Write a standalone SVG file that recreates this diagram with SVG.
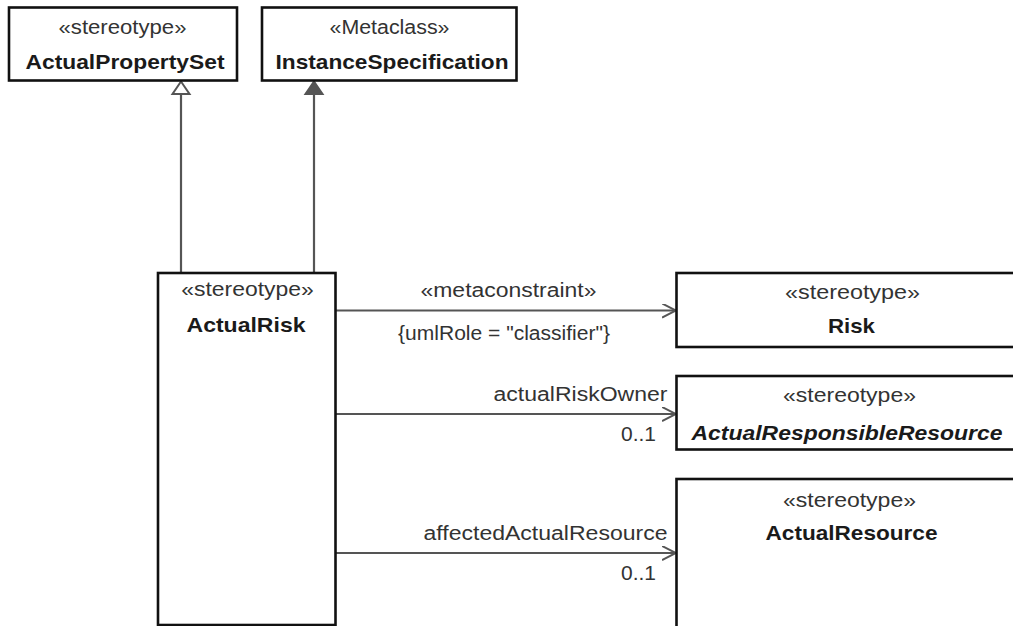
<svg xmlns="http://www.w3.org/2000/svg" width="1013" height="626" viewBox="0 0 1013 626">
<style>
.box{fill:#fff;stroke:#111;stroke-width:2.6}
.st{font-family:"Liberation Sans",Arial,sans-serif;font-size:19.5px;fill:#333;text-anchor:middle}
.nm{font-family:"Liberation Sans",Arial,sans-serif;font-size:21px;font-weight:bold;fill:#1a1a1a;text-anchor:middle}
.it{font-style:italic}
.lbl{font-family:"Liberation Sans",Arial,sans-serif;font-size:19.5px;fill:#333}
.con{fill:none;stroke:#555;stroke-width:2.2}
</style>
<defs>
<marker id="open" markerWidth="16" markerHeight="16" refX="14" refY="7" orient="auto" markerUnits="userSpaceOnUse">
<path d="M0,0 L14,7 L0,14" fill="none" stroke="#555" stroke-width="2"/>
</marker>
</defs>
<rect width="1013" height="626" fill="#fff"/>
<g id="connectors">
<line class="con" x1="181" y1="273" x2="181" y2="94"/>
<path d="M181,81.5 L189.5,94 L172.5,94 Z" fill="#fff" stroke="#555" stroke-width="2"/>
<line class="con" x1="314" y1="273" x2="314" y2="94"/>
<path d="M314,81.5 L322.5,94 L305.5,94 Z" fill="#555" stroke="#555" stroke-width="2"/>
<line class="con" x1="336" y1="310.5" x2="676" y2="310.5" marker-end="url(#open)"/>
<text class="st" x="508.5" y="297" textLength="176" lengthAdjust="spacingAndGlyphs">«metaconstraint»</text>
<text class="st" x="504" y="339.5" textLength="212" lengthAdjust="spacingAndGlyphs">{umlRole = "classifier"}</text>
<line class="con" x1="336" y1="414" x2="676" y2="414" marker-end="url(#open)"/>
<text class="lbl" x="667.5" y="401" text-anchor="end" textLength="174" lengthAdjust="spacingAndGlyphs">actualRiskOwner</text>
<text class="lbl" x="656" y="441" text-anchor="end" textLength="35" lengthAdjust="spacingAndGlyphs">0..1</text>
<line class="con" x1="336" y1="553" x2="676" y2="553" marker-end="url(#open)"/>
<text class="lbl" x="667.5" y="540" text-anchor="end" textLength="244" lengthAdjust="spacingAndGlyphs">affectedActualResource</text>
<text class="lbl" x="656" y="579.5" text-anchor="end" textLength="35" lengthAdjust="spacingAndGlyphs">0..1</text>
</g>
<g id="ActualPropertySet">
<rect class="box" x="9" y="7.5" width="228" height="73"/>
<text class="st" x="122.5" y="34" textLength="128" lengthAdjust="spacingAndGlyphs">«stereotype»</text>
<text class="nm" x="125" y="68.5" textLength="199" lengthAdjust="spacingAndGlyphs">ActualPropertySet</text>
</g>
<g id="InstanceSpecification">
<rect class="box" x="262" y="7.5" width="254.5" height="73"/>
<text class="st" x="389.5" y="34" textLength="120" lengthAdjust="spacingAndGlyphs">«Metaclass»</text>
<text class="nm" x="392" y="68.5" textLength="233" lengthAdjust="spacingAndGlyphs">InstanceSpecification</text>
</g>
<g id="ActualRisk">
<rect class="box" x="158" y="273" width="177.5" height="352"/>
<text class="st" x="247.5" y="296" textLength="132.5" lengthAdjust="spacingAndGlyphs">«stereotype»</text>
<text class="nm" x="246" y="331.5" textLength="119" lengthAdjust="spacingAndGlyphs">ActualRisk</text>
</g>
<g id="Risk">
<rect class="box" x="676.5" y="273" width="350" height="74"/>
<text class="st" x="852.5" y="299" textLength="135" lengthAdjust="spacingAndGlyphs">«stereotype»</text>
<text class="nm" x="851.5" y="333" textLength="47" lengthAdjust="spacingAndGlyphs">Risk</text>
</g>
<g id="ActualResponsibleResource">
<rect class="box" x="676.5" y="376" width="350" height="73.5"/>
<text class="st" x="849.5" y="401.5" textLength="133" lengthAdjust="spacingAndGlyphs">«stereotype»</text>
<text class="nm it" x="847" y="440" textLength="311" lengthAdjust="spacingAndGlyphs">ActualResponsibleResource</text>
</g>
<g id="ActualResource">
<rect class="box" x="676.5" y="479" width="350" height="160"/>
<text class="st" x="849.5" y="506.5" textLength="133" lengthAdjust="spacingAndGlyphs">«stereotype»</text>
<text class="nm" x="851.5" y="540" textLength="172" lengthAdjust="spacingAndGlyphs">ActualResource</text>
</g>
</svg>
